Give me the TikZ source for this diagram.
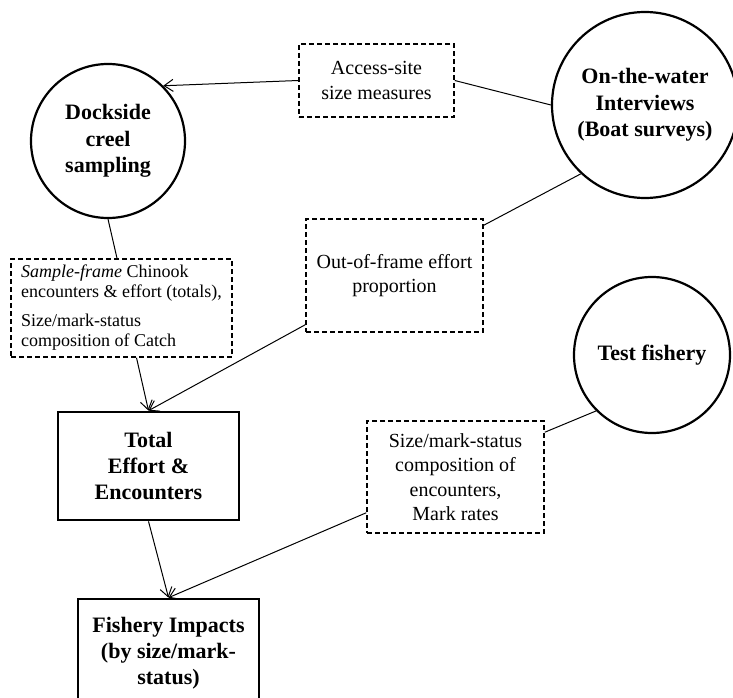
\documentclass[tikz,border=0pt]{standalone}
\usepackage{fontspec}
\setmainfont{Liberation Serif}
\usetikzlibrary{arrows.meta}
\begin{document}
\begin{tikzpicture}[x=1pt,y=-1pt,
  src/.style={circle, draw, line width=2.2pt, inner sep=0pt, align=center, font=\fontsize{22}{26.5}\selectfont\bfseries},
  info/.style={rectangle, draw, dash pattern=on 5pt off 3pt, line width=1.5pt, inner sep=0pt, align=center, font=\fontsize{20}{24.5}\selectfont},
  result/.style={rectangle, draw, line width=2.7pt, inner sep=0pt, align=center, font=\fontsize{22}{26}\selectfont\bfseries},
  link/.style={line width=1pt},
  flow/.style={line width=1pt, -{Straight Barb[length=9pt,width=12pt]}}]
\useasboundingbox (0,0) rectangle (733,698);
\clip (0,0) rectangle (733,698);
\fill[white] (0,0) rectangle (733,698);
\node[src, minimum size=154pt] (dock) at (108,141) {Dockside\\creel\\sampling};
\node[src, minimum size=186pt] (water) at (645,105) {On-the-water\\Interviews\\(Boat surveys)};
\node[src, minimum size=156pt] (test) at (652,355) {Test fishery};
\node[info, minimum width=155pt, minimum height=73pt] (access) at (376.5,80.5) {Access-site\\size measures};
\node[info, minimum width=177pt, minimum height=113pt] (frame) at (394.5,275.5) {Out-of-frame effort\\proportion};
\node[info, minimum width=221pt, minimum height=98pt, align=left, font=\fontsize{18}{20}\selectfont] (sample) at (121.5,308) {\textit{Sample-frame} Chinook\\encounters \& effort (totals),\\[9pt]Size/mark-status\\composition of Catch};
\node[info, minimum width=177pt, minimum height=112pt] (mix) at (455.5,477) {Size/mark-status\\composition of\\encounters,\\Mark rates};
\node[result, minimum width=181pt, minimum height=108pt] (total) at (148.5,466) {Total\\Effort \&\\Encounters};
\node[result, minimum width=181pt, minimum height=108pt] (impact) at (168.5,653) {Fishery Impacts\\(by size/mark-\\status)};
\draw[flow] (access.west) -- (dock.45);
\draw[link] (access.east) -- (water.west);
\draw[link] (water.227) -- ([yshift=-7pt]frame.north east);
\draw[flow] ([yshift=8pt]frame.south west) -- (total.north);
\draw[link] (dock.south) -- ([xshift=-4.5pt]sample.north);
\draw[flow] ([xshift=15pt]sample.south) -- (total.north);
\draw[link] (test.225) -- ([yshift=-12pt]mix.north east);
\draw[flow] ([yshift=21pt]mix.south west) -- (impact.north);
\draw[flow] (total.south) -- (impact.north);
\end{tikzpicture}
\end{document}
